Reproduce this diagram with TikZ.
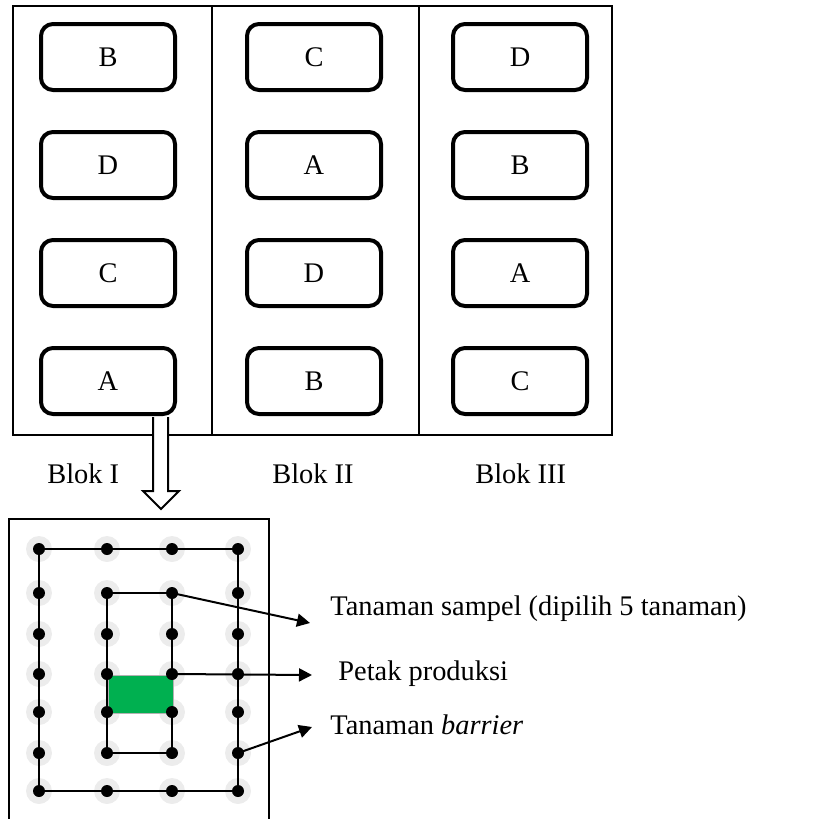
\documentclass[tikz,border=0pt]{standalone}
\usepackage{fontspec}
\setmainfont{Liberation Serif}
\usepackage{tikz}
\usetikzlibrary{arrows.meta, positioning}
\definecolor{petakgreen}{RGB}{0, 176, 80}
\definecolor{halogray}{RGB}{236, 236, 236}

\begin{document}
\begin{tikzpicture}[
  x=0.5pt, y=-0.5pt,
  node distance=19pt and 34pt,
  plotbox/.style={
    draw, rectangle, rounded corners=6pt, line width=2pt,
    minimum width=67pt, minimum height=33pt,
    font=\fontsize{14.2pt}{17pt}\selectfont
  },
  lbl/.style={anchor=base west, inner sep=0pt,
    font=\fontsize{14.2pt}{17pt}\selectfont},
  frame/.style={line width=0.75pt},
  halo/.style={circle, fill=halogray, minimum size=13pt, inner sep=0pt},
  dot/.style={circle, fill=black, minimum size=6pt, inner sep=0pt},
  grid/.style={line width=1pt},
  arrow/.style={-{Triangle[length=6.5pt, width=6.5pt]}, line width=1pt}
]
  \useasboundingbox (0,0) rectangle (817,819);

  % blocks
  \draw[frame] (13,6) rectangle (612,435);
  \draw[frame] (212,6) -- (212,436);
  \draw[frame] (419,6) -- (419,436);

  \node[plotbox] (p11) at (108,57) {B};
  \node[plotbox, below=of p11] (p12) {D};
  \node[plotbox, below=of p12] (p13) {C};
  \node[plotbox, below=of p13] (p14) {A};

  \node[plotbox, right=of p11] (p21) {C};
  \node[plotbox, below=of p21] (p22) {A};
  \node[plotbox, below=of p22] (p23) {D};
  \node[plotbox, below=of p23] (p24) {B};

  \node[plotbox, right=of p21] (p31) {D};
  \node[plotbox, below=of p31] (p32) {B};
  \node[plotbox, below=of p32] (p33) {A};
  \node[plotbox, below=of p33] (p34) {C};

  \node[lbl] (blok1) at (47,483) {Blok I};
  \node[lbl] (blok2) at (272,483) {Blok II};
  \node[lbl] (blok3) at (475,483) {Blok III};

  % hollow arrow to the plot detail
  \draw[fill=white, line width=1pt] (153,417) -- (153,491) -- (143,491)
    -- (161,509) -- (179,491) -- (168,491) -- (168,417);

  % plot detail
  \draw[frame] (9,819) -- (9,519) -- (269,519) -- (269,819);

  \foreach \c/\x in {1/39, 2/107, 3/172, 4/238}
    \foreach \r/\y in {1/549, 2/593, 3/634, 4/674, 5/712, 6/753, 7/791}
      \node[halo] (h\c\r) at (\x,\y) {};

  \foreach \c/\x in {1/39, 2/107, 3/172, 4/238}
    \foreach \r/\y in {1/549, 2/593, 3/634, 4/674, 5/712, 6/753, 7/791}
      \coordinate (t\c\r) at (\x,\y);

  \draw[grid] (t11) -- (t41) -- (t47) -- (t17) -- cycle;
  \draw[grid] (t22) -- (t32) -- (t36) -- (t26) -- cycle;

  \draw[fill=petakgreen, draw=gray!60, line width=0.5pt] (108,675) rectangle (173,713);

  \foreach \c in {1,...,4}
    \foreach \r in {1,...,7}
      \node[dot] (d\c\r) at (t\c\r) {};

  % legend
  \node[lbl] (sampel) at (330,615) {Tanaman sampel (dipilih 5 tanaman)};
  \node[lbl] (petak) at (338,680) {Petak produksi};
  \node[lbl] (barrier) at (330,734) {Tanaman \textit{barrier}};

  \coordinate (e1) at (310,623);
  \coordinate (e2) at (312,675);
  \coordinate (e3) at (312,727);

  \draw[arrow] (d32.center) -- (e1);
  \draw[arrow] (d34.center) -- (e2);
  \draw[arrow] (d46.center) -- (e3);
\end{tikzpicture}
\end{document}
